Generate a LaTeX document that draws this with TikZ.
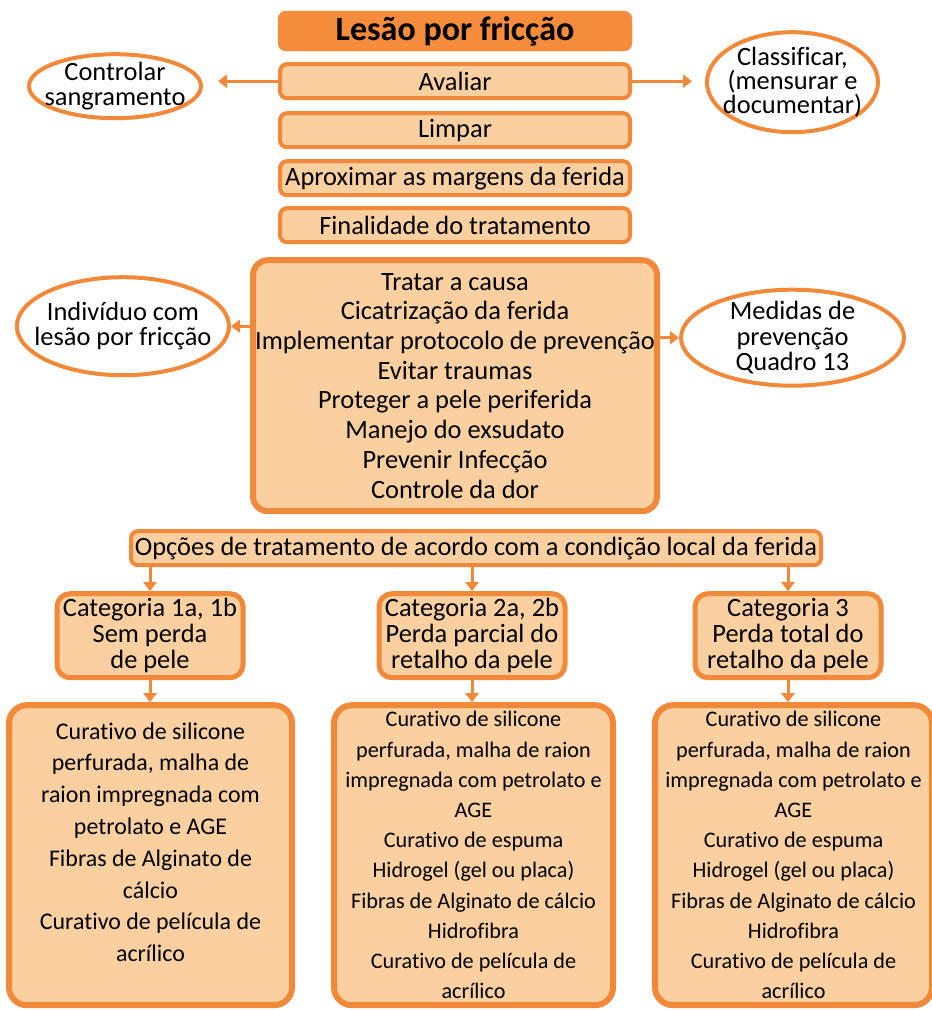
\documentclass[tikz,border=0pt]{standalone}
\usepackage{fontspec}
\setmainfont{Carlito}[Ligatures=NoCommon]
\usepackage{xcolor}
\usetikzlibrary{shapes.geometric, arrows.meta, positioning}
\definecolor{lfborder}{RGB}{241,136,58}
\definecolor{lffill}{RGB}{251,208,161}
\definecolor{lftitle}{RGB}{245,140,60}
\tikzstyle{titlebox} = [rectangle, draw=lftitle, fill=lftitle, rounded corners=8pt, minimum width=354pt, minimum height=40pt, inner sep=0pt, font=\fontsize{34}{40}\selectfont\bfseries]
\tikzstyle{stepbox} = [rectangle, draw=lfborder, line width=4pt, fill=lffill, rounded corners=7pt, minimum width=350pt, minimum height=34pt, inner sep=1pt, font=\fontsize{26.4}{28}\selectfont]
\tikzstyle{goalbox} = [rectangle, draw=lfborder, line width=6pt, fill=lffill, rounded corners=15pt, minimum width=404pt, minimum height=251pt, inner sep=0pt, align=center, font=\fontsize{26.4}{29.7}\selectfont]
\tikzstyle{sidenote} = [ellipse, draw=lfborder, line width=4pt, fill=white, inner ysep=0pt, align=center, font=\fontsize{26.4}{25.5}\selectfont]
\tikzstyle{catbox} = [rectangle, draw=lfborder, line width=5pt, fill=lffill, rounded corners=13pt, minimum width=186pt, minimum height=84pt, inner sep=0pt, align=center, font=\fontsize{26.4}{26}\selectfont]
\tikzstyle{treatbox} = [rectangle, draw=lfborder, line width=6pt, fill=lffill, rounded corners=18pt, minimum height=300pt, inner sep=0pt, align=center, font=\fontsize{22.2}{30.2}\selectfont]
\tikzstyle{arrow} = [-{Triangle[length=9pt,width=13pt]}, line width=3pt, draw=lfborder]

\begin{document}
\begin{tikzpicture}[x=1pt, y=-1pt]
\useasboundingbox (0,0) rectangle (932,1010);

% Top column of steps
\node[titlebox] (title) at (455,31) {Lesão por fricção};
\node[stepbox, below=11pt of title] (avaliar) {Avaliar};
\node[stepbox, below=11pt of avaliar] (limpar) {Limpar};
\node[stepbox, below=10pt of limpar] (aproximar) {Aproximar as margens da ferida};
\node[stepbox, below=9pt of aproximar] (finalidade) {Finalidade do tratamento};

% Goals of the treatment
\node[goalbox, below=13pt of finalidade] (goals) {Tratar a causa\\Cicatrização da ferida\\Implementar protocolo de prevenção\\Evitar traumas\\Proteger a pele periferida\\Manejo do exsudato\\Prevenir Infecção\\Controle da dor};

% Side ellipses
\node[sidenote, minimum width=172pt, minimum height=64pt, inner xsep=-10pt, inner ysep=-3.4pt, left=75pt of avaliar, yshift=-5pt] (ctrl) {Controlar\\sangramento};
\node[sidenote, minimum width=171pt, minimum height=100pt, inner xsep=-9.5pt, right=73pt of avaliar, yshift=-1pt, font=\fontsize{26.4}{24}\selectfont] (classif) {Classificar,\\(mensurar e\\documentar)};
\node[sidenote, minimum width=211pt, minimum height=98pt, inner xsep=-13.5pt, left=19pt of goals, yshift=59.5pt] (indiv) {Indivíduo com\\lesão por fricção};
\node[sidenote, minimum width=223pt, minimum height=96pt, inner xsep=0pt, inner ysep=-3.6pt, right=19pt of goals, yshift=48pt] (medidas) {Medidas de\\prevenção\\Quadro 13};

% Treatment options and categories
\node[stepbox, minimum width=690pt, below=15pt of goals, xshift=21pt] (opcoes) {Opções de tratamento de acordo com a condição local da ferida};
\node[catbox, below=24pt of opcoes, xshift=-4pt] (cat2) {Categoria 2a, 2b\\Perda parcial do\\retalho da pele};
\node[catbox, left=131pt of cat2] (cat1) {Categoria 1a, 1b\\Sem perda\\de pele};
\node[catbox, right=125pt of cat2] (cat3) {Categoria 3\\Perda total do\\retalho da pele};

% Dressings per category
\node[treatbox, minimum width=283pt, below=22pt of cat1, xshift=0.5pt, font=\fontsize{23.9}{31.8}\selectfont] (treat1) {Curativo de silicone\\perfurada, malha de\\raion impregnada com\\petrolato e AGE\\Fibras de Alginato de\\cálcio\\Curativo de película de\\acrílico\\[-15pt]\strut};
\node[treatbox, minimum width=279pt, below=22pt of cat2, xshift=1.5pt] (treat2) {Curativo de silicone\\perfurada, malha de raion\\impregnada com petrolato e\\AGE\\Curativo de espuma\\Hidrogel (gel ou placa)\\Fibras de Alginato de cálcio\\Hidrofibra\\Curativo de película de\\acrílico};
\node[treatbox, minimum width=277pt, below=22pt of cat3, xshift=5.5pt] (treat3) {Curativo de silicone\\perfurada, malha de raion\\impregnada com petrolato e\\AGE\\Curativo de espuma\\Hidrogel (gel ou placa)\\Fibras de Alginato de cálcio\\Hidrofibra\\Curativo de película de\\acrílico};

% Side arrows
\draw[arrow, shorten >=15pt] (avaliar.west) -- (avaliar.west -| ctrl.east);
\draw[arrow, shorten >=13pt] (avaliar.east) -- (avaliar.east -| classif.west);
\draw[arrow] (indiv.east -| goals.west) -- (indiv.east);
\draw[arrow] (medidas.west -| goals.east) -- (medidas.west);

% Down arrows
\draw[arrow] (cat1.north |- opcoes.south) -- (cat1.north);
\draw[arrow] (cat2.north |- opcoes.south) -- (cat2.north);
\draw[arrow] (cat3.north |- opcoes.south) -- (cat3.north);
\draw[arrow] (cat1.south) -- (cat1.south |- treat1.north);
\draw[arrow] (cat2.south) -- (cat2.south |- treat2.north);
\draw[arrow] (cat3.south) -- (cat3.south |- treat3.north);

\end{tikzpicture}
\end{document}
